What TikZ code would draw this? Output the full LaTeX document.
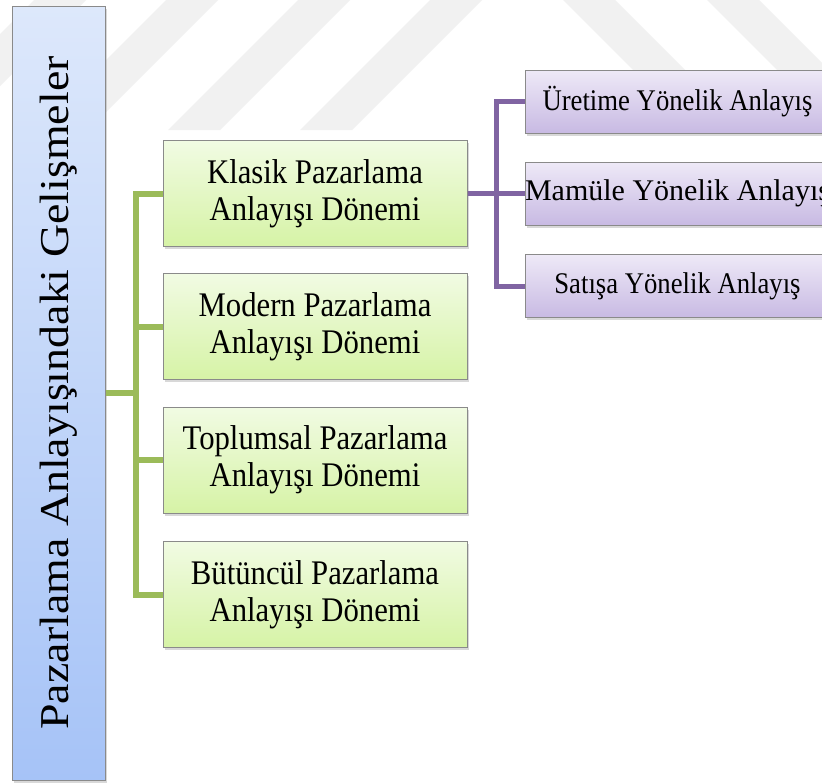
\documentclass[tikz,border=0pt]{standalone}
\usepackage{fontspec}
\setmainfont{Liberation Serif}[FakeStretch=0.89]
\newfontfamily\plainserif{Liberation Serif}
\newfontfamily\wideserif{Liberation Serif}[FakeStretch=1.12]
\usetikzlibrary{shadows}

\definecolor{branchgreen}{HTML}{9BBB59}
\definecolor{branchpurple}{HTML}{8064A2}
\definecolor{boxedge}{HTML}{8A8A8A}
\definecolor{greentop}{HTML}{F1FBE3}
\definecolor{greenbot}{HTML}{D6F3A6}
\definecolor{purpletop}{HTML}{EEE9F7}
\definecolor{purplebot}{HTML}{C8BAE3}
\definecolor{bluetop}{HTML}{DDE8FB}
\definecolor{bluebot}{HTML}{A6C3F7}
\definecolor{watermark}{HTML}{F1F1F1}

\tikzset{
  box/.style={draw=boxedge, line width=1pt, inner sep=0pt, align=center,
    drop shadow={shadow xshift=2pt, shadow yshift=-2.5pt, opacity=0.3}},
  periodbox/.style={box, minimum width=304pt, minimum height=106pt,
    top color=greentop, bottom color=greenbot,
    font=\fontsize{34.5}{37}\selectfont},
  approachbox/.style={box, minimum width=305pt, minimum height=63pt,
    top color=purpletop, bottom color=purplebot,
    font=\fontsize{30}{34}\selectfont},
  rootbox/.style={box, rotate=90, minimum width=774pt, minimum height=93pt,
    top color=bluetop, bottom color=bluebot,
    font=\wideserif\fontsize{41}{45}\selectfont},
  gline/.style={draw=branchgreen, line width=6pt},
  pline/.style={draw=branchpurple, line width=5pt},
  band/.style={fill=watermark, draw=none}
}

\begin{document}
\begin{tikzpicture}[x=1pt, y=-1pt]
  \useasboundingbox (0,0) rectangle (822,782);
  \clip (0,0) rectangle (822,782);
  \fill[white] (0,0) rectangle (822,782);

  % faint diagonal bands of the page background
  \foreach \a in {34,166,298,430}
    \fill[band] (\a,0) -- (\a+52,0) -- (\a-78,130) -- (\a-130,130) -- cycle;
  \foreach \a in {563,707}
    \fill[band] (\a,0) -- (\a+52,0) -- (\a+177,125) -- (\a+125,125) -- cycle;

  % root
  \node[rootbox] (root) at (58.5,393) {Pazarlama Anlayışındaki Gelişmeler};

  % periods
  \node[periodbox] (klasik)    at (315,193.5) {Klasik Pazarlama\\Anlayışı Dönemi};
  \node[periodbox] (modern)    at (315,326.5) {Modern Pazarlama\\Anlayışı Dönemi};
  \node[periodbox] (toplumsal) at (315,460)   {Toplumsal Pazarlama\\Anlayışı Dönemi};
  \node[periodbox] (butuncul)  at (315,594.5) {Bütüncül Pazarlama\\Anlayışı Dönemi};

  % approaches of the classical period
  \node[approachbox] (uretim) at (677.5,101.5) {Üretime Yönelik Anlayış};
  \node[approachbox, font=\plainserif\fontsize{30}{34}\selectfont]
       (mamul) at (677.5,193.5) {Mamüle Yönelik Anlayış};
  \node[approachbox] (satis)  at (677.5,286)   {Satışa Yönelik Anlayış};

  % green tree
  \coordinate (gtrunk) at (136,393);
  \draw[gline] (klasik.west) -| (gtrunk) |- (butuncul.west);
  \draw[gline] (root.south) -- (gtrunk);
  \draw[gline] (modern.west -| gtrunk) -- (modern.west);
  \draw[gline] (toplumsal.west -| gtrunk) -- (toplumsal.west);

  % purple tree
  \coordinate (ptrunk) at (496,193.5);
  \draw[pline] (uretim.west) -| (ptrunk) |- (satis.west);
  \draw[pline] (klasik.east) -- (mamul.west);
\end{tikzpicture}
\end{document}
